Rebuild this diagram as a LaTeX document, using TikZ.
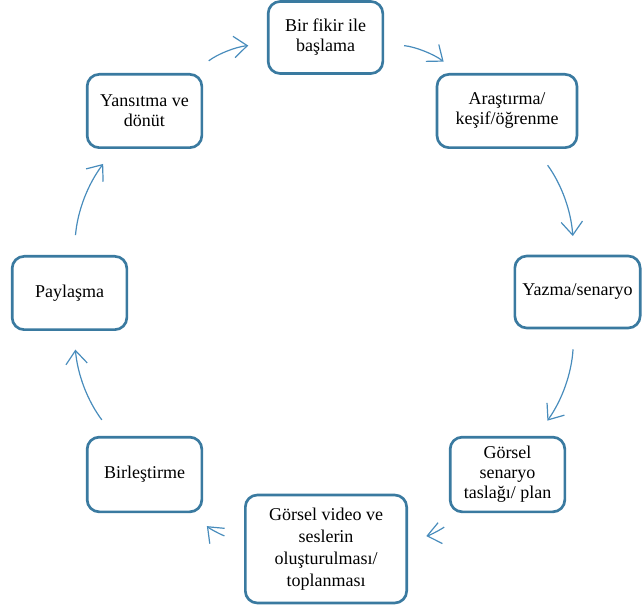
\documentclass[tikz,border=0pt]{standalone}
\usepackage{fontspec}
\setmainfont{Liberation Serif}
\usetikzlibrary{arrows.meta}

\definecolor{boxblue}{RGB}{58,122,160}
\definecolor{arrowblue}{RGB}{72,140,188}

\tikzset{
	stage/.style={draw=boxblue, line width=2pt, rounded corners=9pt, fill=white,
		align=center, inner sep=2pt, font=\fontsize{13.5}{15}\selectfont},
	cycle/.style={draw=arrowblue, line width=0.9pt, bend left=16,
		-{Straight Barb[length=10pt,width=16pt]}, shorten <=15pt, shorten >=14pt}
}

\begin{document}
\begin{tikzpicture}[x=0.75pt,y=-0.75pt]
	\useasboundingbox (0,0) rectangle (644,610);

	% etapes
	\node[stage, minimum width=86pt, minimum height=54pt] (fikir) at (325.5,37.5) {Bir fikir ile\\başlama};
	\node[stage, minimum width=105pt, minimum height=55pt] (arastirma) at (507,111) {Araştırma/\\keşif/öğrenme};
	\node[stage, minimum width=94pt, minimum height=54pt] (yazma) at (577.5,292) {Yazma/senaryo};
	\node[stage, minimum width=86pt, minimum height=56pt] (taslak) at (507.5,474.5) {Görsel\\senaryo\\taslağı/ plan};
	\node[stage, minimum width=121pt, minimum height=81pt, font=\fontsize{13.5}{16.5}\selectfont] (video) at (326,549) {Görsel video ve\\seslerin\\oluşturulması/\\toplanması};
	\node[stage, minimum width=86pt, minimum height=56pt] (birlestirme) at (144.5,474.5) {Birleştirme};
	\node[stage, minimum width=86pt, minimum height=55pt] (paylasma) at (69.5,293) {Paylaşma};
	\node[stage, minimum width=86pt, minimum height=55pt] (yansitma) at (144.5,111) {Yansıtma ve\\dönüt};

	% oklar
	\draw[cycle] (fikir) to (arastirma);
	\draw[cycle] (arastirma) to (yazma);
	\draw[cycle] (yazma) to (taslak);
	\draw[cycle] (taslak) to (video);
	\draw[cycle] (video) to (birlestirme);
	\draw[cycle] (birlestirme) to (paylasma);
	\draw[cycle] (paylasma) to (yansitma);
	\draw[cycle] (yansitma) to (fikir);
\end{tikzpicture}
\end{document}
